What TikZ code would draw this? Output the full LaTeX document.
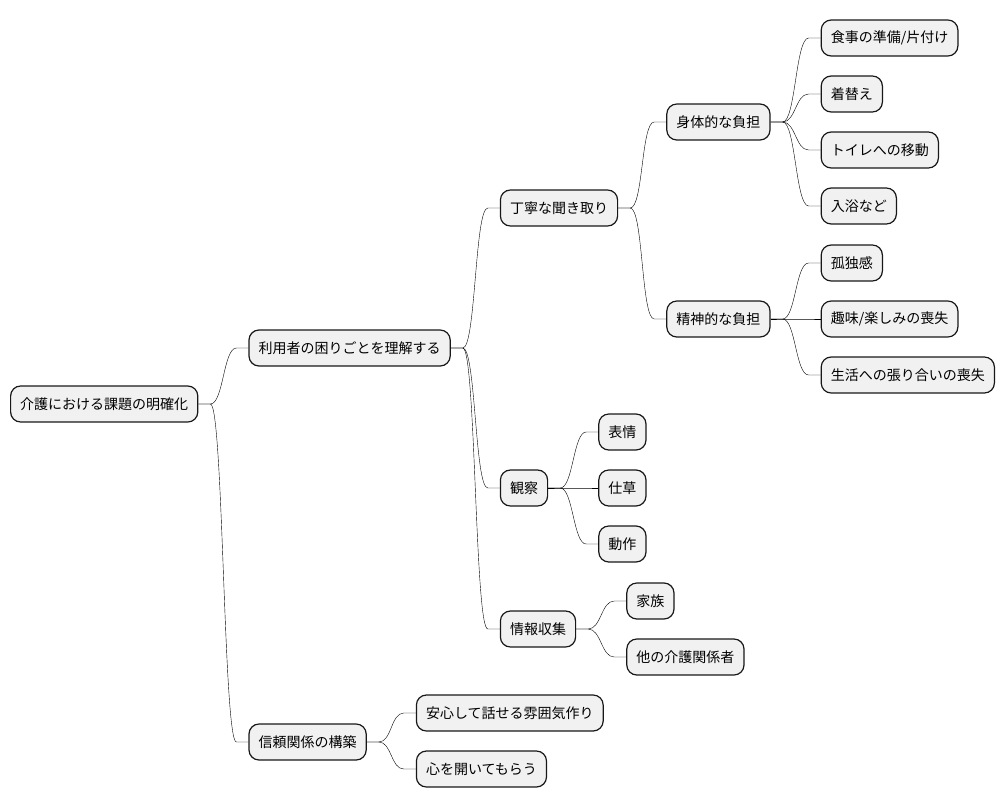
\documentclass[tikz,border=0pt]{standalone}
\usepackage{fontspec}
\setmainfont{Noto Sans CJK JP}
\usepackage{tikz}
\usetikzlibrary{positioning, calc}
\definecolor{mm_fill}{HTML}{F1F1F1}
\definecolor{mm_line}{HTML}{181818}
\tikzstyle{topic} = [rectangle, rounded corners=10pt, draw=mm_line, fill=mm_fill, line width=1.2pt, minimum height=36pt, inner xsep=9.6pt, text centered, font=\fontsize{14pt}{16pt}\selectfont]
\tikzstyle{branch} = [draw=mm_line, line width=1pt, to path={(\tikztostart.east) -- ++(12pt,0) .. controls +(13pt,0) and +(-13pt,0) .. ($(\tikztotarget.west)+(-12pt,0)$) -- (\tikztotarget.west)}]

\begin{document}
\begin{tikzpicture}[x=1pt, y=1pt]
            \useasboundingbox (0,0) rectangle (1006,-809);

            % Root
            \node[topic, anchor=west] at (10,-404) (root) {介護における課題の明確化};

            % First level
            \node[topic, right=50pt of root, yshift=56pt] (needs) {利用者の困りごとを理解する};
            \node[topic, right=50pt of root, yshift=-338pt] (trust) {信頼関係の構築};

            % Understanding the user
            \node[topic, right=49pt of needs, yshift=140pt] (hearing) {丁寧な聞き取り};
            \node[topic, right=49pt of needs, yshift=-140pt] (observe) {観察};
            \node[topic, right=49pt of needs, yshift=-281pt] (info) {情報収集};

            % Careful listening
            \node[topic, right=48pt of hearing, yshift=86pt] (physical) {身体的な負担};
            \node[topic, right=48pt of hearing, yshift=-111pt] (mental) {精神的な負担};

            \node[topic, right=50pt of physical, yshift=84pt] (meal) {食事の準備/片付け};
            \node[topic, right=50pt of physical, yshift=28pt] (dress) {着替え};
            \node[topic, right=50pt of physical, yshift=-28pt] (toilet) {トイレへの移動};
            \node[topic, right=50pt of physical, yshift=-84pt] (bath) {入浴など};

            \node[topic, right=50pt of mental, yshift=56pt] (lonely) {孤独感};
            \node[topic, right=50pt of mental] (hobby) {趣味/楽しみの喪失};
            \node[topic, right=50pt of mental, yshift=-56pt] (purpose) {生活への張り合いの喪失};

            % Observation
            \node[topic, right=50pt of observe, yshift=56pt] (face) {表情};
            \node[topic, right=50pt of observe] (gesture) {仕草};
            \node[topic, right=50pt of observe, yshift=-56pt] (motion) {動作};

            % Information gathering
            \node[topic, right=50pt of info, yshift=28pt] (family) {家族};
            \node[topic, right=50pt of info, yshift=-28pt] (staff) {他の介護関係者};

            % Building trust
            \node[topic, right=49pt of trust, yshift=29pt] (calm) {安心して話せる雰囲気作り};
            \node[topic, right=49pt of trust, yshift=-27pt] (open) {心を開いてもらう};

            % Branches
            \draw (root) to[branch] (needs);
            \draw (root) to[branch] (trust);
            \draw (needs) to[branch] (hearing);
            \draw (needs) to[branch] (observe);
            \draw (needs) to[branch] (info);
            \draw (hearing) to[branch] (physical);
            \draw (hearing) to[branch] (mental);
            \foreach \leaf in {meal, dress, toilet, bath}
                \draw (physical) to[branch] (\leaf);
            \foreach \leaf in {lonely, hobby, purpose}
                \draw (mental) to[branch] (\leaf);
            \foreach \leaf in {face, gesture, motion}
                \draw (observe) to[branch] (\leaf);
            \draw (info) to[branch] (family);
            \draw (info) to[branch] (staff);
            \draw (trust) to[branch] (calm);
            \draw (trust) to[branch] (open);
        \end{tikzpicture}
\end{document}
